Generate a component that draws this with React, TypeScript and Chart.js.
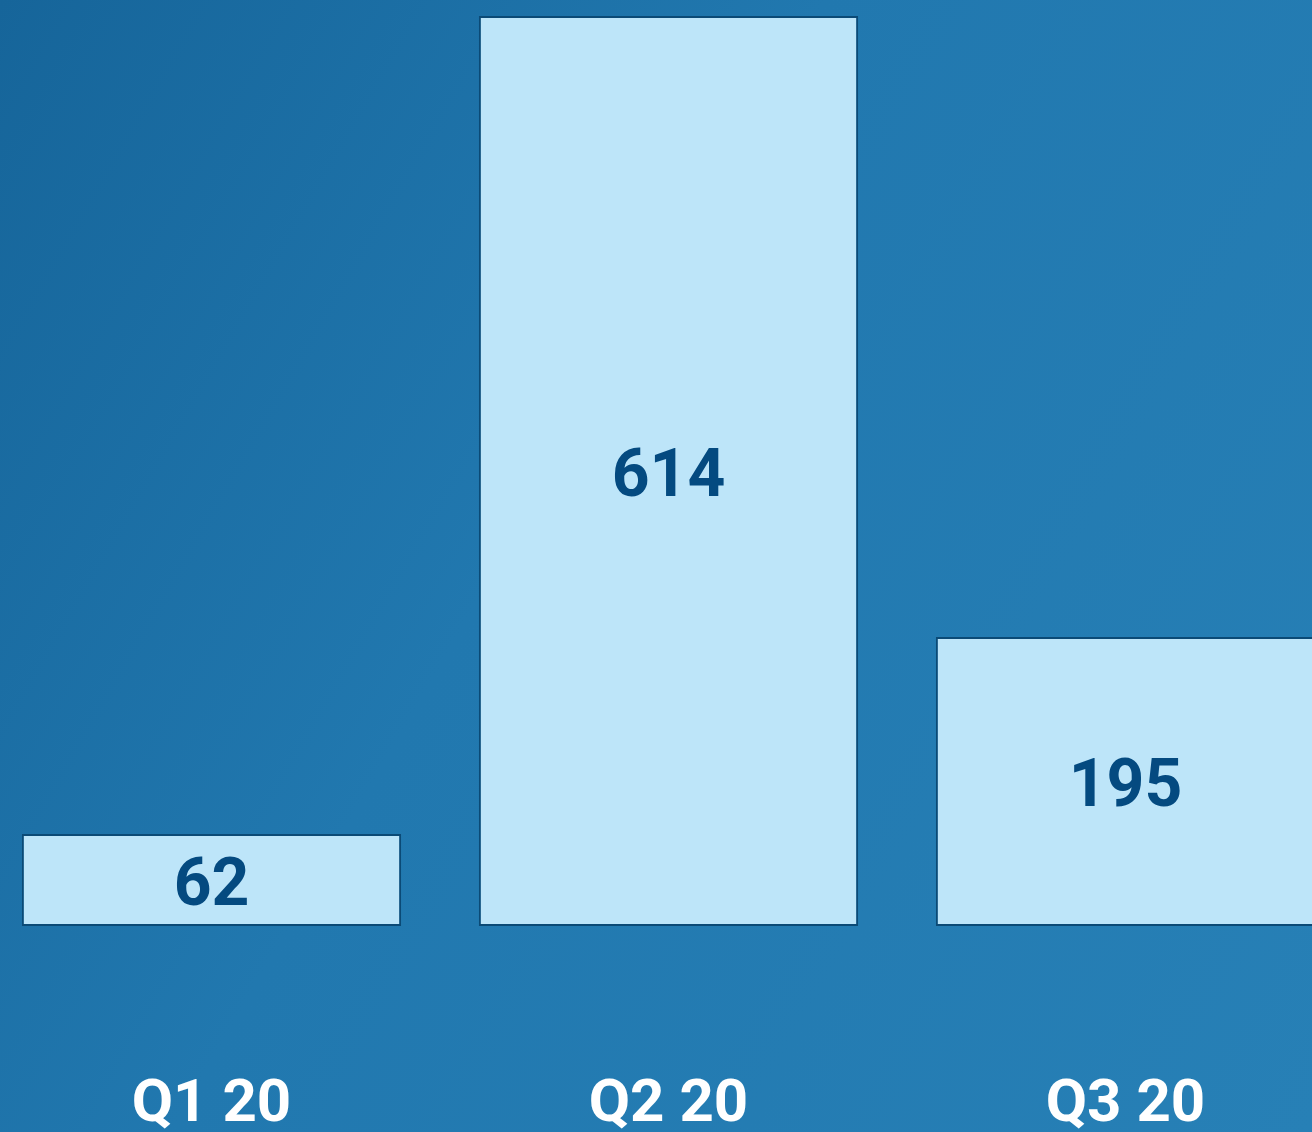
import React, { useEffect, useRef } from "react";
import { Chart, registerables } from "chart.js";

Chart.register(...registerables);

const categories = ["Q1 20", "Q2 20", "Q3 20"];
const values = [62, 614, 195];

const valueLabelPlugin = {
  id: "valueLabels",
  afterDatasetsDraw(chart: any) {
    const ctx = chart.ctx;
    const meta = chart.getDatasetMeta(0);
    ctx.save();
    ctx.fillStyle = "#044a80";
    ctx.font = "bold 66px Roboto";
    ctx.textAlign = "center";
    ctx.textBaseline = "middle";
    meta.data.forEach((bar: any, i: number) => {
      const y = (bar.y + bar.base) / 2;
      ctx.fillText(String(values[i]), bar.x, y + 8);
    });
    ctx.restore();
  },
};

export default function App() {
  const ref = useRef<HTMLCanvasElement | null>(null);
  useEffect(() => {
    if (!ref.current) return;
    const chart = new Chart(ref.current, {
      type: "bar",
      data: {
        labels: categories,
        datasets: [
          {
            data: values,
            backgroundColor: "#bde5f9",
            borderColor: "#0b4a76",
            borderWidth: 2,
            borderSkipped: false,
            barPercentage: 0.83,
            categoryPercentage: 1,
          },
        ],
      },
      options: {
        animation: false,
        responsive: false,
        maintainAspectRatio: false,
        layout: { padding: { top: 16, left: 0, right: 0, bottom: 0 } },
        plugins: { legend: { display: false }, tooltip: { enabled: false } },
        scales: {
          x: {
            grid: { display: false, drawTicks: false },
            border: { display: false },
            ticks: {
              color: "#ffffff",
              font: { family: "Roboto", size: 60, weight: "bold" },
              padding: 144,
            },
          },
          y: {
            display: false,
            min: 0,
            max: 614,
          },
        },
      },
      plugins: [valueLabelPlugin],
    });
    return () => chart.destroy();
  }, []);
  return (
    <div
      style={{
        position: "fixed",
        left: 0,
        top: 0,
        width: 1312,
        height: 1132,
        overflow: "hidden",
        background:
          "linear-gradient(120deg, #16659a 0%, #2178af 42%, #2780b6 100%)",
      }}
    >
      <canvas
        ref={ref}
        width={1371}
        height={1286}
        style={{ position: "absolute", left: -17, top: 0, width: 1371, height: 1286 }}
      />
    </div>
  );
}
